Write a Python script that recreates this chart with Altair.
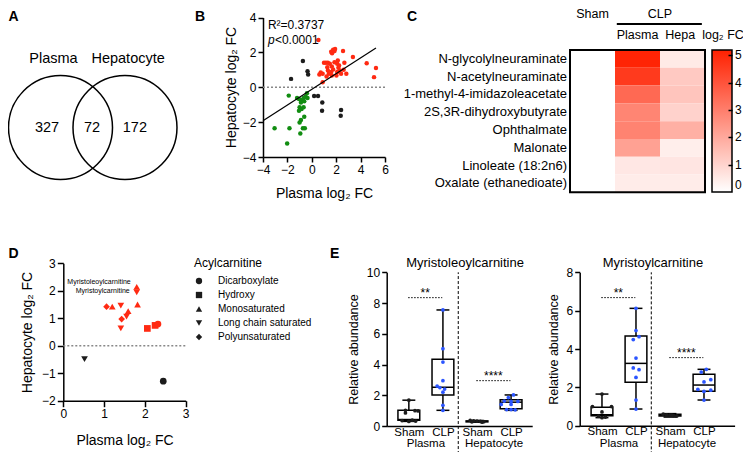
import altair as alt
import pandas as pd

FONT = "Liberation Sans"
RED = "#ff2a12"
GREEN = "#118d11"
BLACK = "#1c1c1c"
BLUE = "#2b55ff"

# ---------------- data ----------------
# A: Venn
venn_sets = ["Plasma", "Hepatocyte"]
venn_counts = [327, 72, 172]

# B: scatter of log2 FC
b_red_x = [0.54, 1.59, 1.75, 1.91, 1.66, 1.86, 2.56, 3.37, 4.50, 5.26, 5.10, 1.00, 1.16, 1.32,
           1.48, 1.86, 2.24, 2.67, 0.73, 0.62, 0.89, 1.32, 1.40, 1.59, 1.75, 2.08, 2.29, 2.61,
           2.83, 2.40, 2.02, 1.64, 1.21, 0.89, 1.27, 2.18, 2.13, 1.64, 2.08]
b_red_y = [2.71, 2.04, 2.15, 2.19, 1.95, 2.08, 2.08, 1.73, 1.38, 1.10, 0.58, 1.40, 1.40, 1.40,
           1.35, 1.44, 1.25, 1.40, 0.85, 0.73, 0.77, 0.96, 0.77, 0.87, 1.02, 0.87, 0.96, 1.00,
           0.77, 0.77, 0.67, 0.67, 0.62, 0.29, 1.15, 1.12, 1.54, 1.19, 1.35]
b_green_x = [-1.89, -1.21, -1.05, -0.89, -0.67, -0.40, -0.51, -0.35, -0.89, -0.62, -1.00, -0.84,
             -1.05, -0.67, -0.62, -0.89, -1.00, -0.73, -0.57, -3.05, -1.83, -0.94, -2.02]
b_green_y = [-0.48, -0.62, -0.67, -0.73, -0.62, -0.35, -0.54, -0.62, -0.87, -0.81, -1.15, -1.25,
             -1.35, -1.15, -1.69, -1.88, -2.02, -2.35, -2.35, -2.35, -2.35, -2.65, -3.23]
b_black_x = [-0.73, -0.35, -0.30, -1.70, 0.19, 0.51, 0.86, 0.84, 2.40, 2.37]
b_black_y = [1.50, 0.92, 0.73, 0.48, -0.50, -0.50, -0.88, -1.35, -1.31, -1.63]
# fitted line (two end points)
b_fit_x = [-4.0, 5.26]
b_fit_y = [-1.92, 2.25]
b_r2 = "R\u00b2=0.3737"
b_p = "<0.0001"

# C: heatmap
heat_metabolites = ["N-glycolylneuraminate", "N-acetylneuraminate", "1-methyl-4-imidazoleacetate",
                    "2S,3R-dihydroxybutyrate", "Ophthalmate", "Malonate", "Linoleate (18:2n6)",
                    "Oxalate (ethanedioate)"]
heat_columns = ["Sham", "Plasma", "Hepa"]
heat_sham = [0, 0, 0, 0, 0, 0, 0, 0]
heat_plasma = [5.1, 4.6, 3.5, 2.85, 2.9, 2.2, 0.55, 0.45]
heat_hepa = [0.5, 1.25, 1.35, 1.05, 1.85, 0.4, 0.6, 0.45]
heat_ticks = [0, 1, 2, 3, 4, 5]

# D: acylcarnitines
d_classes = ["Dicarboxylate", "Hydroxy", "Monosaturated", "Long chain saturated", "Polyunsaturated"]
d_plasma = [1.06, 1.20, 1.41, 1.82, 1.80, 1.80, 1.59, 1.55, 1.43, 1.41, 2.06, 2.25, 2.32, 0.52, 2.45]
d_hep = [1.42, 1.42, 1.46, 1.50, 2.14, 1.94, 1.26, 1.06, 0.97, 0.63, 0.63, 0.74, 0.79, -0.49, -1.29]
d_class = ["Polyunsaturated", "Monosaturated", "Long chain saturated", "Monosaturated",
           "Monosaturated", "Long chain saturated", "Monosaturated", "Long chain saturated",
           "Polyunsaturated", "Long chain saturated", "Hydroxy", "Hydroxy", "Dicarboxylate",
           "Long chain saturated", "Dicarboxylate"]
d_status = ["up"] * 13 + ["ns", "ns"]
d_names = ["", "", "", "", "Myristoleoylcarnitine", "Myristoylcarnitine", "", "", "", "", "", "", "", "", ""]

# E: box plots
e_cats = ["Sham", "CLP", "Sham", "CLP"]
e_tissues = ["Plasma", "Hepatocyte"]
e1_name = "Myristoleoylcarnitine"
e1_points = [[1.68, 1.02, 1.0, 0.98, 0.85, 0.38, 0.35, 0.32, 0.30],
             [7.55, 5.03, 4.16, 2.95, 2.60, 2.50, 2.40, 2.20, 1.35, 1.02],
             [0.36, 0.33, 0.31, 0.30, 0.28, 0.27, 0.25],
             [2.02, 1.85, 1.62, 1.60, 1.60, 1.40, 1.40, 1.07, 1.07, 1.05]]
e1_jitter = [[0.0, -0.1, 0.18, 0.27, -0.1, 0.1, -0.2, 0.2, 0.0],
             [0.0, 0.0, 0.0, 0.0, -0.17, -0.09, 0.05, 0.0, 0.0, 0.0],
             [-0.2, -0.1, 0.0, 0.1, 0.2, -0.15, 0.15],
             [0.07, -0.08, -0.2, 0.0, 0.2, 0.0, -0.29, -0.13, 0.0, 0.12]]
e1_stats = [[0.30, 0.37, 0.42, 1.03, 1.68],
            [1.02, 2.02, 2.52, 4.34, 7.55],
            [0.25, 0.27, 0.30, 0.33, 0.36],
            [1.02, 1.12, 1.55, 1.71, 2.02]]
e1_sig = [["**", 8.35], ["****", 2.95]]
e2_name = "Myristoylcarnitine"
e2_points = [[1.65, 1.0, 1.0, 0.72, 0.50, 0.45, 0.42],
             [6.12, 4.96, 4.64, 4.49, 3.53, 3.01, 2.92, 2.52, 1.34, 0.87],
             [0.60, 0.57, 0.55, 0.53, 0.50, 0.55],
             [2.94, 2.80, 2.40, 2.28, 1.90, 1.85, 1.79, 1.34]]
e2_jitter = [[0.0, -0.28, 0.28, 0.0, -0.1, 0.1, 0.0],
             [0.0, 0.0, 0.09, -0.08, 0.0, -0.08, 0.09, 0.0, 0.0, 0.0],
             [-0.2, -0.1, 0.0, 0.1, 0.2, 0.05],
             [0.07, -0.08, 0.2, 0.0, -0.18, 0.2, 0.0, 0.0]]
e2_stats = [[0.42, 0.52, 0.57, 0.96, 1.65],
            [0.87, 2.26, 3.25, 4.68, 6.12],
            [0.45, 0.50, 0.55, 0.60, 0.63],
            [1.34, 1.80, 2.12, 2.68, 2.94]]
e2_sig = [["**", 6.68], ["****", 3.55]]

# ---------------- helpers ----------------
def qscale(dom, rng):
    return alt.Scale(domain=dom, range=rng, nice=False, zero=False)

AX = dict(grid=False, domainColor="black", tickColor="black", labelColor="black",
          titleColor="black", domainWidth=1.5, tickWidth=1.5, labelFont=FONT, titleFont=FONT,
          titleFontWeight="normal", labelFlush=False, labelOverlap=False)

TXT = dict(font=FONT, color="black")

# ---------------- A ----------------
va_x = qscale([-1, 2.24], [0.5, 169])
va_y = qscale([-1, 1], [171.5, 67.5])
VX = lambda f="x": alt.X(f"{f}:Q", scale=va_x, axis=None)
VY = lambda f="y": alt.Y(f"{f}:Q", scale=va_y, axis=None)

venn_circles = pd.DataFrame({"set": venn_sets, "x": [0.0, 1.24], "y": [0.0, 0.0]})
venn_names = pd.DataFrame({"t": venn_sets, "x": [-0.135, 1.30], "y": [1.317, 1.317]})
venn_nums = pd.DataFrame({"t": [str(v) for v in venn_counts], "x": [-0.26, 0.606, 1.43], "y": [0, 0, 0]})

panel_a = alt.layer(
    alt.Chart(venn_circles).mark_point(shape="circle", filled=False, size=104 ** 2, color="black",
                                       strokeWidth=1.5, opacity=1).encode(x=VX(), y=VY()),
    alt.Chart(venn_names).mark_text(fontSize=14.5, baseline="middle", **TXT).encode(x=VX(), y=VY(), text="t:N"),
    alt.Chart(venn_nums).mark_text(fontSize=14.5, baseline="middle", **TXT).encode(x=VX(), y=VY(), text="t:N"),
)

# ---------------- B ----------------
bx_s = qscale([-4, 6], [255, 377])
by_s = qscale([-4, 4], [149, 9.5])
b_xaxis = alt.Axis(orient="bottom", offset=-295, values=[-4, -2, 0, 2, 4, 6], tickSize=5, labelPadding=2,
                   title="Plasma log\u2082 FC", titleX=316, titleY=36, titleBaseline="middle",
                   titleAlign="center", titleFontSize=14, labelFontSize=12, **AX)
b_yaxis = alt.Axis(orient="left", offset=-255, values=[-4, -2, 0, 2, 4], tickSize=5, labelPadding=2,
                   title="Hepatocyte log\u2082 FC", titleX=-32, titleY=79, titleAngle=270,
                   titleBaseline="middle", titleAlign="center", titleFontSize=14, labelFontSize=12, **AX)
BX = lambda f="x": alt.X(f"{f}:Q", scale=bx_s, axis=b_xaxis)
BY = lambda f="y": alt.Y(f"{f}:Q", scale=by_s, axis=b_yaxis)

b_df = pd.concat([
    pd.DataFrame({"x": b_red_x, "y": b_red_y, "g": "up"}),
    pd.DataFrame({"x": b_green_x, "y": b_green_y, "g": "down"}),
    pd.DataFrame({"x": b_black_x, "y": b_black_y, "g": "ns"}),
], ignore_index=True)
b_zero = pd.DataFrame({"x": [-4], "x2": [6], "y": [0]})
b_fit = pd.DataFrame({"x": b_fit_x, "y": b_fit_y})

panel_b = alt.layer(
    alt.Chart(b_zero).mark_rule(color="#888888", strokeWidth=1.3, strokeDash=[2, 2]).encode(x=BX(), x2="x2:Q", y=BY()),
    alt.Chart(b_df).mark_circle(size=20, opacity=1).encode(
        x=BX(), y=BY(),
        color=alt.Color("g:N", scale=alt.Scale(domain=["up", "down", "ns"], range=[RED, GREEN, BLACK]), legend=None)),
    alt.Chart(b_fit).mark_line(color="black", strokeWidth=1.2).encode(x=BX(), y=BY()),
    alt.Chart(pd.DataFrame({"t": [b_r2], "x": [-3.6], "y": [3.55]})).mark_text(
        fontSize=12, align="left", baseline="middle", **TXT).encode(x=BX(), y=BY(), text="t:N"),
    alt.Chart(pd.DataFrame({"t": ["p"], "x": [-3.6], "y": [2.7]})).mark_text(
        fontSize=12, align="left", baseline="middle", fontStyle="italic", **TXT).encode(x=BX(), y=BY(), text="t:N"),
    alt.Chart(pd.DataFrame({"t": [b_p], "x": [-3.6], "y": [2.7]})).mark_text(
        fontSize=12, align="left", baseline="middle", dx=7, **TXT).encode(x=BX(), y=BY(), text="t:N"),
)

# ---------------- C ----------------
cx_s = qscale([0, 3], [562, 697])
cy_s = qscale([0, 8], [42, 184.3])
CX = lambda f="x": alt.X(f"{f}:Q", scale=cx_s, axis=None)
CY = lambda f="y": alt.Y(f"{f}:Q", scale=cy_s, axis=None)

rows = []
for ci, vals in enumerate([heat_sham, heat_plasma, heat_hepa]):
    for ri, v in enumerate(vals):
        rows.append({"x": ci, "x2": ci + 1, "y": ri, "y2": ri + 1, "v": v, "col": heat_columns[ci]})
heat_df = pd.DataFrame(rows)
heat_labels = pd.DataFrame({"t": heat_metabolites, "x": 0, "y": [i + 0.5 for i in range(8)]})
heat_head = pd.DataFrame({"t": ["Sham", "CLP", heat_columns[1], heat_columns[2], "log\u2082 FC"],
                          "x": [0.5, 2.0, 1.5, 2.45, 3.4], "y": [-2.02, -2.02, -0.84, -0.84, -0.84]})

heat_legend = alt.Legend(title=None, orient="none", legendX=704, legendY=42, direction="vertical",
                         gradientLength=142, gradientThickness=20, gradientStrokeColor="black",
                         gradientStrokeWidth=1.5, values=heat_ticks, labelFontSize=12, labelFont=FONT,
                         padding=0, labelOffset=3, labelOverlap=False, labelColor="black")

panel_c = alt.layer(
    alt.Chart(heat_df).mark_rect().encode(
        x=CX(), x2="x2:Q", y=CY(), y2="y2:Q",
        color=alt.Color("v:Q", scale=alt.Scale(domain=[0, 5.2], range=["#ffffff", "#ff2000"], interpolate="rgb"),
                        legend=heat_legend)),
    alt.Chart(pd.DataFrame({"x": [0], "x2": [3], "y": [0], "y2": [8]})).mark_rect(
        fillOpacity=0, stroke="black", strokeWidth=2).encode(x=CX(), x2="x2:Q", y=CY(), y2="y2:Q"),
    alt.Chart(heat_labels).mark_text(fontSize=13, align="right", baseline="middle", dx=-3, **TXT).encode(
        x=CX(), y=CY(), text="t:N"),
    alt.Chart(heat_head).mark_text(fontSize=12.5, align="center", baseline="middle", **TXT).encode(
        x=CX(), y=CY(), text="t:N"),
    alt.Chart(pd.DataFrame({"x": [1.04], "x2": [2.93], "y": [-1.46]})).mark_rule(
        color="black", strokeWidth=2).encode(x=CX(), x2="x2:Q", y=CY()),
)

panel_c_ticks = alt.Chart(pd.DataFrame({"v": heat_ticks[1:]})).mark_point(opacity=0).encode(
    y=alt.Y("v:Q", scale=qscale([0, 5.2], [184, 42]),
            axis=alt.Axis(orient="left", offset=-724, values=heat_ticks[1:], labels=False, domain=False,
                          tickSize=4, tickWidth=1.5, tickColor="black", title=None, grid=False, zindex=3)))

# ---------------- D ----------------
dx_s = qscale([0, 3], [55.3, 177.7])
dy_s = qscale([-2, 3], [392.7, 255.3])
d_xaxis = alt.Axis(orient="bottom", offset=-51.3, values=[0, 1, 2, 3], tickSize=6, labelPadding=2,
                   title="Plasma log\u2082 FC", titleX=116.5, titleY=39.3, titleBaseline="middle",
                   titleAlign="center", titleFontSize=14, labelFontSize=12, **AX)
d_yaxis = alt.Axis(orient="left", offset=-55.3, values=[-2, -1, 0, 1, 2, 3], tickSize=6, labelPadding=2,
                   title="Hepatocyte log\u2082 FC", titleX=-36.3, titleY=324, titleAngle=270,
                   titleBaseline="middle", titleAlign="center", titleFontSize=14, labelFontSize=12, **AX)
DX = lambda f="x": alt.X(f"{f}:Q", scale=dx_s, axis=d_xaxis)
DY = lambda f="y": alt.Y(f"{f}:Q", scale=dy_s, axis=d_yaxis)

d_df = pd.DataFrame({"x": d_plasma, "y": d_hep, "cls": d_class, "st": d_status, "name": d_names})
d_lab = d_df[d_df["name"] != ""]

d_legend = alt.Legend(title="Acylcarnitine", orient="none", legendX=186, legendY=250, symbolFillColor=BLACK,
                      symbolStrokeColor=BLACK, symbolStrokeWidth=0, symbolSize=40, labelFontSize=10,
                      labelFont=FONT, titleFont=FONT, titleFontSize=12, titleFontWeight="normal",
                      titlePadding=6, rowPadding=4, labelOffset=14, padding=0, labelColor="black",
                      titleColor="black")

panel_d = alt.layer(
    alt.Chart(pd.DataFrame({"x": [0], "x2": [3], "y": [0]})).mark_rule(
        color="#888888", strokeWidth=1.3, strokeDash=[2, 2]).encode(x=DX(), x2="x2:Q", y=DY()),
    alt.Chart(d_df).mark_point(filled=True, size=45, opacity=1).encode(
        x=DX(), y=DY(),
        shape=alt.Shape("cls:N", scale=alt.Scale(domain=d_classes,
                                                 range=["circle", "square", "triangle-up", "triangle-down", "diamond"]),
                        legend=d_legend),
        color=alt.Color("st:N", scale=alt.Scale(domain=["up", "ns"], range=[RED, BLACK]), legend=None)),
    alt.Chart(d_lab.iloc[[0]]).mark_text(fontSize=7, align="right", baseline="middle", dx=-6, dy=-5, **TXT).encode(
        x=DX(), y=DY(), text="name:N"),
    alt.Chart(d_lab.iloc[[1]]).mark_text(fontSize=7, align="right", baseline="middle", dx=-7, dy=-1, **TXT).encode(
        x=DX(), y=DY(), text="name:N"),
)

# ---------------- E ----------------
def box_panel(name, pts, jit, stats, sig, xs, ys, x_off, y_off, yvals, ytitle_x, title_xy, tissue_y, top):
    label_expr = "[" + ",".join("'%s'" % c for c in e_cats) + "][datum.value]"
    xaxis = alt.Axis(orient="bottom", offset=x_off, values=[0, 1, 2, 3], labelExpr=label_expr, tickSize=0,
                     labelPadding=0, labelFontSize=11.5, title=None, **AX)
    yaxis = alt.Axis(orient="left", offset=y_off, values=yvals, tickSize=5, labelPadding=2, labelFontSize=12,
                     title="Relative abundance", titleX=ytitle_x, titleY=341, titleAngle=270,
                     titleBaseline="middle", titleAlign="center", titleFontSize=12.5, **AX)
    EX = lambda f="x": alt.X(f"{f}:Q", scale=xs, axis=xaxis)
    EY = lambda f="y": alt.Y(f"{f}:Q", scale=ys, axis=yaxis)

    prow = []
    for g, (vals, js) in enumerate(zip(pts, jit)):
        for v, j in zip(vals, js):
            prow.append({"x": g + j, "y": v, "kind": e_cats[g]})
    p_df = pd.DataFrame(prow)
    s_df = pd.DataFrame([{"x": g, "xl": g - 0.32, "xr": g + 0.32, "cl": g - 0.19, "cr": g + 0.19,
                          "lo": s[0], "q1": s[1], "med": s[2], "q3": s[3], "hi": s[4]}
                         for g, s in enumerate(stats)])
    sig_df = pd.DataFrame([{"xa": 2 * i - 0.02, "xb": 2 * i + 0.98, "x": 2 * i + 0.48, "y": lvl, "t": t}
                           for i, (t, lvl) in enumerate(sig)])
    line = dict(color="black", strokeWidth=1.5)
    return alt.layer(
        alt.Chart(pd.DataFrame({"x": [1.45], "y": [-2.8], "y2": [top]})).mark_rule(
            color="black", strokeWidth=1, strokeDash=[3, 2]).encode(x=EX(), y=EY(), y2="y2:Q"),
        alt.Chart(s_df).mark_rule(**line).encode(x=EX(), y=EY("lo"), y2="hi:Q"),
        alt.Chart(s_df).mark_rule(**line).encode(x=EX("cl"), x2="cr:Q", y=EY("lo")),
        alt.Chart(s_df).mark_rule(**line).encode(x=EX("cl"), x2="cr:Q", y=EY("hi")),
        alt.Chart(s_df).mark_rect(fill="white", stroke="black", strokeWidth=1.5).encode(
            x=EX("xl"), x2="xr:Q", y=EY("q1"), y2="q3:Q"),
        alt.Chart(s_df).mark_rule(**line).encode(x=EX("xl"), x2="xr:Q", y=EY("med")),
        alt.Chart(p_df).mark_circle(size=14, opacity=1).encode(
            x=EX(), y=EY(),
            color=alt.Color("kind:N", scale=alt.Scale(domain=["Sham", "CLP"], range=[BLACK, BLUE]), legend=None)),
        alt.Chart(sig_df).mark_rule(color="black", strokeWidth=1, strokeDash=[1.5, 1.5]).encode(
            x=EX("xa"), x2="xb:Q", y=EY()),
        alt.Chart(sig_df).mark_text(fontSize=12, baseline="alphabetic", dy=-1, **TXT).encode(
            x=EX(), y=EY(), text="t:N"),
        alt.Chart(pd.DataFrame({"x": [title_xy[0]], "y": [title_xy[1]], "t": [name]})).mark_text(
            fontSize=13, baseline="middle", **TXT).encode(x=EX(), y=EY(), text="t:N"),
        alt.Chart(pd.DataFrame({"x": [0.5, 2.5], "y": [tissue_y, tissue_y], "t": e_tissues})).mark_text(
            fontSize=11.5, baseline="middle", **TXT).encode(x=EX(), y=EY(), text="t:N"),
    )

panel_e1 = box_panel(e1_name, e1_points, e1_jitter, e1_stats, e1_sig,
                     qscale([-0.65, 3.62], [378.7, 524.2]), qscale([0, 10], [418, 264.3]),
                     -26, -378.7, [0, 2, 4, 6, 8, 10], -33.7, (1.65, 10.6), -1.2, 10)
panel_e2 = box_panel(e2_name, e2_points, e2_jitter, e2_stats, e2_sig,
                     qscale([-0.655, 3.9], [571.7, 726.6]), qscale([0, 8], [417.7, 264.3]),
                     -26.3, -571.7, [0, 2, 4, 6, 8], -26.7, (1.5, 8.49), -0.97, 8)

# ---------------- panel letters ----------------
letters = alt.layer(*[
    alt.Chart(pd.DataFrame({"t": [t]})).mark_text(fontSize=14, fontWeight="bold", align="left",
                                                  baseline="top", **TXT).encode(
        text="t:N", x=alt.value(px), y=alt.value(py))
    for t, px, py in [("A", 0.5, 2), ("B", 187, 2), ("C", 399, 2), ("D", 0.5, 239), ("E", 322, 239)]
])

chart = alt.layer(panel_a, panel_b, panel_c, panel_c_ticks, panel_d, panel_e1, panel_e2, letters).resolve_scale(
    x="independent", y="independent", color="independent", shape="independent"
).resolve_axis(x="independent", y="independent").properties(
    width=735, height=444, padding=0, autosize=alt.AutoSizeParams(type="none")
).configure(font=FONT, background="white").configure_view(stroke=None)

chart.save("out.html", embed_options={"renderer": "svg", "actions": False})
